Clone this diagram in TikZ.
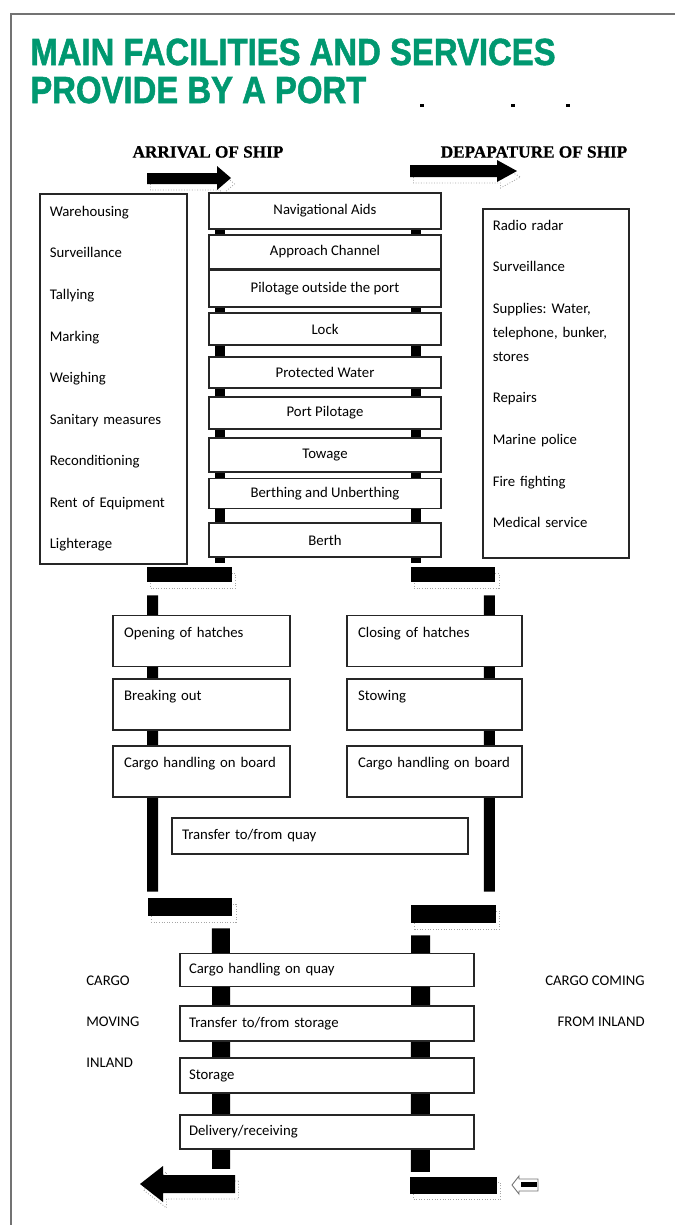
\documentclass[tikz,border=0pt]{standalone}
\usepackage{fontspec}
\setmainfont{Carlito}
\newfontfamily\headfont{Liberation Serif}[BoldFeatures={FakeBold=0.6}]
\newfontfamily\titlefont{Liberation Sans}[BoldFeatures={FakeBold=1.6}]
\usetikzlibrary{positioning,calc,backgrounds}
\definecolor{portgreen}{RGB}{0,152,112}
\newcommand{\squeeze}[1]{\scalebox{0.87}[1]{#1}}
\frenchspacing

\begin{document}
\begin{tikzpicture}[
    x=0.02cm, y=-0.02cm,
    box/.style={draw=black!85, line width=0.9pt, fill=white, inner sep=0pt, font=\fontsize{8.4}{10}\selectfont},
    stack/.style={box, minimum width=4.64cm, minimum height=0.66cm},
    listbox/.style={box, anchor=north west, align=left, inner xsep=0.2cm, font=\fontsize{8.4}{13.66}\selectfont},
    hatch/.style={box, minimum height=1.02cm, align=left, text height=2mm, text depth=3.6mm},
    quaybox/.style={box, minimum width=5.88cm, minimum height=0.68cm, text width=5.52cm, align=left},
    ghost/.style={preaction={draw=black!35, densely dotted, line width=0.5pt, transform canvas={shift={(0.07cm,-0.12cm)}}}},
    bar/.style={fill=black, minimum width=1.7cm, minimum height=0.3cm, inner sep=0pt, ghost},
    post/.style={line width=0.2cm, black},
    head/.style={font=\headfont\bfseries\fontsize{9.8}{11}\selectfont, inner sep=0pt},
    title/.style={text=portgreen, font=\titlefont\bfseries\fontsize{21.5}{22}\selectfont, inner sep=0pt, anchor=base west},
    side/.style={inner sep=0pt, font=\fontsize{8.4}{23.3}\selectfont},
    frame/.style={draw=black!55, line width=1pt}
  ]
    \useasboundingbox (0,0) rectangle (675,1225);
    \draw[frame] (675,14) -- (11,14) -- (11,1225);

    % title
    \node[title] (title1) at (30,65) {\squeeze{MAIN FACILITIES AND SERVICES}};
    \node[title] (title2) at (30,103) {\squeeze{PROVIDE BY A PORT}};
    \foreach \dx in {422,513,568}
      \fill (\dx-2,104) rectangle (\dx+2,107);

    \node[head] (arrival) at (208,152) {ARRIVAL OF SHIP};
    \node[head] (departure) at (534,152) {DEPAPATURE OF SHIP};
    \fill[ghost] (147,173) -- (217,173) -- (217,166) -- (231,178) -- (217,190) -- (217,184) -- (147,184) -- cycle;
    \fill[ghost] (410,165) -- (497,165) -- (497,160) -- (517,171) -- (497,182) -- (497,177) -- (410,177) -- cycle;

    % services to the ship
    \node[stack, minimum height=0.72cm] (nav) at (325,211) {Navigational Aids};
    \node[stack, minimum height=0.68cm] (appr) at (325,252) {Approach Channel};
    \node[stack, minimum height=0.74cm] (pilot) at (325,288.5) {Pilotage outside the port};
    \node[stack, minimum height=0.64cm] (lock) at (325,329) {Lock};
    \node[stack, minimum height=0.62cm] (prot) at (325,372.5) {Protected Water};
    \node[stack, minimum height=0.64cm] (portp) at (325,413) {Port Pilotage};
    \node[stack, minimum height=0.68cm] (tow) at (325,455) {Towage};
    \node[stack, minimum height=0.6cm] (berthing) at (325,493.5) {Berthing and Unberthing};
    \node[stack, minimum height=0.68cm] (berth) at (325,540) {Berth};

    \node[listbox, text width=2.54cm, minimum height=7.4cm] (cargoserv) at (39,193)
      {Warehousing\\[10pt]Surveillance\\[10pt]Tallying\\[10pt]Marking\\[10pt]Weighing\\[10pt]%
       Sanitary measures\\[10pt]Reconditioning\\[10pt]Rent of Equipment\\[10pt]Lighterage};
    \node[listbox, text width=2.52cm, minimum height=6.98cm] (shipserv) at (482,208)
      {Radio radar\\[10pt]Surveillance\\[10pt]Supplies: Water,\\telephone, bunker,\\stores\\[10pt]%
       Repairs\\[10pt]Marine police\\[10pt]Fire fighting\\[10pt]Medical service\rule[-0.38cm]{0pt}{0.38cm}};

    \node[bar] (barL1) at (189.5,574.5) {};
    \node[bar] (barR1) at (453,574.5) {};

    % on board
    \node[hatch, minimum width=3.54cm, text width=3.1cm] (open) at (201.5,641) {Opening of hatches};
    \node[hatch, minimum width=3.54cm, text width=3.1cm] (breakout) at (201.5,704.5) {Breaking out};
    \node[hatch, minimum width=3.54cm, text width=3.1cm] (boardL) at (201.5,771.5) {Cargo handling on board};
    \node[hatch, minimum width=3.5cm, text width=3.06cm] (close) at (434.5,641) {Closing of hatches};
    \node[hatch, minimum width=3.5cm, text width=3.06cm] (stow) at (434.5,704.5) {Stowing};
    \node[hatch, minimum width=3.5cm, text width=3.06cm] (boardR) at (434.5,771.5) {Cargo handling on board};
    \node[box, minimum width=5.92cm, minimum height=0.72cm, text width=5.52cm, align=left] (xfer) at (320,836) {Transfer to/from quay};

    \node[bar, minimum height=0.36cm] (barL2) at (190,907) {};
    \node[bar, minimum height=0.36cm] (barR2) at (453.5,914) {};

    % on the quay
    \node[quaybox, minimum height=0.66cm] (quay) at (327,970) {Cargo handling on quay};
    \node[quaybox, minimum height=0.7cm] (tstore) at (327,1023.5) {Transfer to/from storage};
    \node[quaybox, minimum height=0.7cm] (store) at (327,1075.5) {Storage};
    \node[quaybox] (deliv) at (327,1132) {Delivery/receiving};

    \node[side, anchor=west, align=left] (inland) at (86,1022) {CARGO\\MOVING\\INLAND};
    \node[side, anchor=east, align=right] (coming) at (645,1001.5) {CARGO COMING\\FROM INLAND};

    \fill[ghost] (235,1175) -- (163,1175) -- (163,1166) -- (140,1184) -- (163,1202) -- (163,1193) -- (235,1193) -- cycle;
    \node[bar, minimum width=1.74cm, minimum height=0.34cm] (barR3) at (453.5,1185) {};
    \draw[black!55, line width=0.5pt, fill=white] (538,1179) -- (519,1179) -- (519,1176) -- (512,1185) -- (519,1194) -- (519,1191) -- (538,1191) -- cycle;
    \fill (521,1181.5) rectangle (537,1187);

    \begin{scope}[on background layer]
      \draw[post] ([xshift=-2.1cm]nav.south) -- ([xshift=-2.1cm,yshift=-0.1cm]berth.south);
      \draw[post] ([xshift=1.82cm]nav.south) -- ([xshift=1.82cm,yshift=-0.1cm]berth.south);
      \draw[post, line width=0.22cm] ([xshift=-0.74cm,yshift=-0.26cm]barL1.south) -- ([xshift=-0.75cm,yshift=0.12cm]barL2.north);
      \draw[post, line width=0.22cm] ([xshift=0.73cm,yshift=-0.26cm]barR1.south) -- ([xshift=0.72cm,yshift=0.26cm]barR2.north);
      \draw[post, line width=0.36cm] ([xshift=0.62cm,yshift=-0.24cm]barL2.south) -- ([xshift=-2.12cm,yshift=-0.38cm]deliv.south);
      \draw[post, line width=0.38cm] ([xshift=-0.66cm,yshift=-0.24cm]barR2.south) -- ([xshift=1.87cm,yshift=-0.44cm]deliv.south);
    \end{scope}
  \end{tikzpicture}
\end{document}
